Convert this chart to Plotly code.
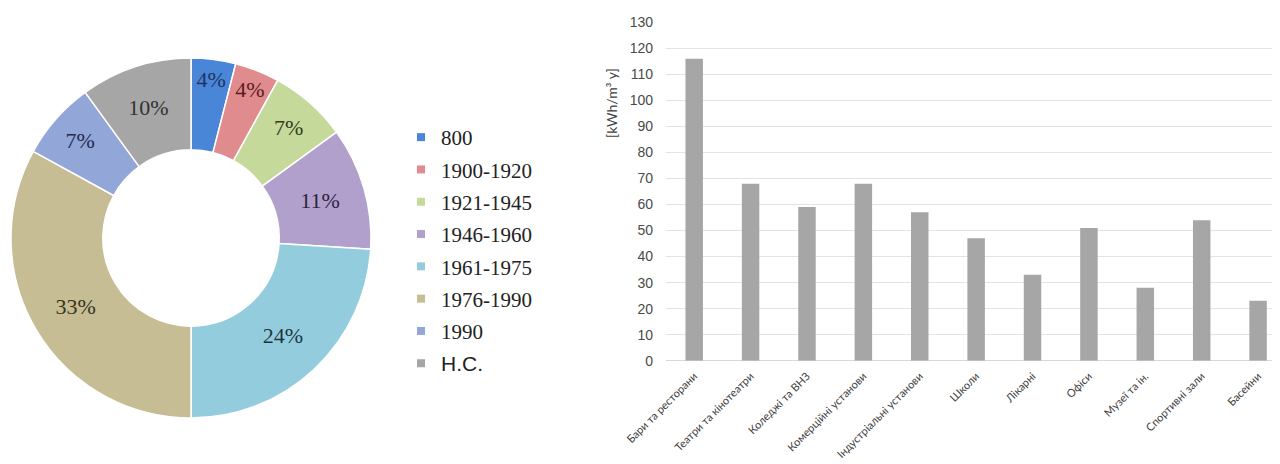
import plotly.graph_objects as go

# ---- Donut data ----
periods = ["800", "1900-1920", "1921-1945", "1946-1960", "1961-1975", "1976-1990", "1990", "Н.С."]
shares = [4, 4, 7, 11, 24, 33, 7, 10]
slice_colors = ["#4a86d8", "#e08b8d", "#c5d99b", "#b1a0cc", "#93cddd", "#c6bd95", "#92a7d7", "#a6a6a6"]
label_colors = ["#1d3462", "#5a1c1f", "#333d1c", "#2c2440", "#1c3740", "#3a3421", "#1f2b52", "#333333"]

# ---- Bar data ----
building_types = ["Бари та ресторани", "Театри та кінотеатри", "Коледжі та ВНЗ", "Комерційні установи",
                  "Індустріальні установи", "Школи", "Лікарні", "Офіси", "Музеї та ін.",
                  "Спортивні зали", "Басейни"]
energy = [116, 68, 59, 68, 57, 47, 33, 51, 28, 54, 23]
y_ticks = list(range(0, 131, 10))

# page body has an 8px margin; size the figure to fit the 1280x464 window
OFF = 8
W, H = 1280 - OFF, 464 - OFF


def px(x):
    return (x - OFF) / W


def py(y):
    return 1 - (y - OFF) / H


fig = go.Figure()

fig.add_trace(go.Pie(
    labels=periods, values=shares, sort=False, direction="clockwise", rotation=0,
    hole=0.49,
    marker=dict(colors=slice_colors, line=dict(color="white", width=1.5)),
    texttemplate="%{value}%", textposition="inside", insidetextorientation="horizontal",
    textfont=dict(family="Liberation Serif", size=22, color=label_colors),
    domain=dict(x=[px(11), px(371)], y=[py(418), py(58)]),
    showlegend=False, hoverinfo="label+value",
))

# legend entries (one group each to control spacing)
for name, col in zip(periods, slice_colors):
    txt = name if name != "Н.С." else '<span style="font-family:Liberation Sans">' + name + '</span>'
    fig.add_trace(go.Scatter(
        x=[None], y=[None], mode="markers", name=txt, legendgroup=name,
        marker=dict(symbol="square", size=8, color=col),
        xaxis="x3", yaxis="y3", showlegend=True,
    ))

fig.add_trace(go.Bar(
    x=building_types, y=energy, marker=dict(color="#a6a6a6", line=dict(width=0)),
    width=0.31, xaxis="x2", yaxis="y2", showlegend=False,
))

fig.update_layout(
    width=W, height=H, margin=dict(l=0, r=0, t=0, b=0, autoexpand=False),
    paper_bgcolor="white", plot_bgcolor="white",
    legend=dict(x=px(401), y=py(117), xanchor="left", yanchor="top",
                font=dict(family="Liberation Serif", size=21, color="#222222"),
                tracegroupgap=2, itemwidth=30, bgcolor="rgba(0,0,0,0)"),
    xaxis3=dict(visible=False, domain=[0, 0.01], automargin=False),
    yaxis3=dict(visible=False, domain=[0, 0.01], automargin=False),
    xaxis2=dict(domain=[px(666), px(1275)], anchor="y2", range=[-0.5, 10.3], automargin=False,
                tickangle=-45, ticklabelstandoff=6,
                tickfont=dict(family="Lato, Liberation Sans", size=11, color="#404040"),
                showgrid=False, showline=False, zeroline=False, ticks=""),
    yaxis2=dict(domain=[py(360.7), py(22.3)], anchor="x2", range=[0, 130], automargin=False,
                tickvals=y_ticks, showgrid=True, gridcolor="#e3e3e3", gridwidth=1.2,
                zeroline=True, zerolinecolor="#d9d9d9", zerolinewidth=1.2,
                tickfont=dict(family="Liberation Sans", size=14, color="#4a4a4a"),
                ticks="", ticklabelstandoff=12, showline=False),
    annotations=[dict(text="[kWh/m³ y]", x=px(611), y=py(103), xref="paper", yref="paper",
                      xanchor="center", yanchor="middle",
                      textangle=-90, showarrow=False,
                      font=dict(family="Lato, Liberation Sans", size=14, color="#404040"))],
)

fig.write_html("out.html")
